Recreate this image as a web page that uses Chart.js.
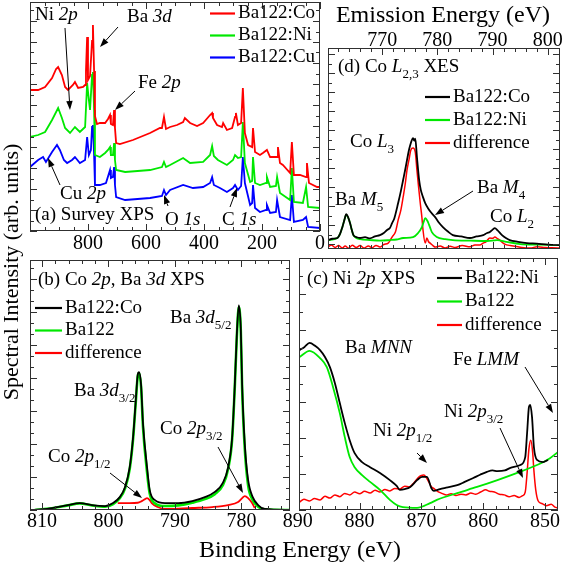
<!DOCTYPE html>
<html><head><meta charset="utf-8">
<script src="https://cdn.jsdelivr.net/npm/chart.js"></script>
<style>
html,body{margin:0;padding:0;background:#fff;}
#wrap{position:relative;width:562px;height:564px;overflow:hidden;background:#fff;font-family:"Liberation Serif","Times New Roman",serif;}
canvas{position:absolute;left:0;top:0;}
.ttl{position:absolute;white-space:nowrap;color:#000;font-size:24px;line-height:28px;text-align:center;}
</style></head>
<body><div id="wrap">
<canvas id="cA" width="562" height="564"></canvas>
<canvas id="cD" width="562" height="564"></canvas>
<canvas id="cB" width="562" height="564"></canvas>
<canvas id="cC" width="562" height="564"></canvas>
<div class="ttl" style="left:-189px;top:258px;width:400px;font-size:22px;transform:rotate(-90deg);">Spectral Intensity (arb. units)</div>
<div class="ttl" style="left:150px;top:535px;width:300px;">Binding Energy (eV)</div>
<div class="ttl" style="left:293px;top:0px;width:300px;">Emission Energy (eV)</div>
</div>
<script>
// ---------- (a) Survey XPS ----------
const surveyTicks = [800, 600, 400, 200, 0];
const surveyLabels = ['Ba122:Co', 'Ba122:Ni', 'Ba122:Cu'];
const surveyCoE = [1000,972,948,924,910,903,890,879,869,852,845,834,817,810,807,803,800,793,786,783,779,776,769,759,741,731,724,721,714,710,707,703,690,645,586,552,545,538,531,517,493,472,466,448,424,403,379,372,369,355,338,334,321,303,293,290,283,272,266,259,248,234,231,224,207,197,183,172,148,145,138,128,103,97,90,69,48,45,38,10,0];
const surveyCoI = [14.1,14.1,14.4,15.3,16.2,16.4,15.6,14.4,14.1,14.6,14.9,14.3,14.4,14.6,16.0,19.4,15.1,15.5,19.0,20.6,16.0,11.5,10.7,10.8,10.8,11.2,11.6,10.7,10.6,12.1,10.3,8.8,8.7,9.1,9.8,10.3,10.3,11.4,10.2,10.4,10.6,10.9,11.3,10.8,10.5,10.8,11.6,11.8,11.3,10.6,10.4,10.8,10.1,10.3,11.4,11.8,10.6,10.8,14.3,9.8,8.6,8.4,10.3,7.9,7.6,7.8,8.1,7.4,7.4,8.4,6.8,6.6,5.8,8.9,5.6,5.6,5.4,6.8,4.8,4.4,4.4];
const surveyNiE = [1000,972,948,924,903,890,879,862,845,828,810,803,797,793,786,783,779,776,759,741,731,724,721,714,710,707,703,672,586,545,538,531,517,472,448,403,379,372,366,352,321,300,293,283,272,266,259,241,234,231,224,207,186,183,172,152,148,138,103,97,90,59,48,41,0];
const surveyNiI = [9.4,9.6,9.9,11.1,12.3,11.3,10.3,9.8,10.4,9.9,10.4,14.8,13.1,12.1,15.6,15.9,12.1,7.6,7.4,7.8,8.1,8.4,7.6,7.6,8.8,7.1,6.1,5.9,6.1,6.4,6.9,6.4,6.6,7.3,6.8,6.9,7.6,8.5,7.5,7.1,6.6,7.1,7.6,7.3,7.4,10.9,6.8,4.9,5.0,7.4,4.8,4.6,4.8,5.4,4.4,4.5,5.4,3.8,3.1,6.3,2.9,2.8,4.4,2.4,2.3];
const surveyCuE = [1000,972,955,945,924,907,897,883,872,855,845,828,810,803,797,790,786,783,779,776,759,738,724,721,714,710,707,703,672,586,545,538,531,517,472,438,403,379,372,366,345,321,300,293,283,272,266,259,241,234,231,224,207,186,183,172,152,148,138,103,97,90,59,48,41,0];
const surveyCuI = [6.4,7.1,7.4,6.9,7.9,8.6,8.1,7.1,6.8,7.1,7.4,6.8,7.1,9.4,7.6,8.1,10.4,10.6,7.6,4.6,4.6,4.8,6.1,5.3,5.4,6.4,4.6,3.4,3.1,3.3,3.5,4.1,3.6,4.1,4.6,4.3,4.4,4.8,5.4,4.6,4.3,3.9,4.3,4.6,4.1,4.5,7.4,4.8,2.6,2.8,4.6,2.3,1.9,2.1,2.6,1.8,1.9,3.1,1.4,1.1,3.6,0.9,1.1,1.4,0.4,0.3];

// ---------- (d) Co L2,3 XES ----------
const xesTicks = [770, 780, 790, 800];
const xesLabels = ['Ba122:Co', 'Ba122:Ni', 'difference'];
const xesCoE = [760.2,761.0,761.9,762.4,762.8,763.2,763.5,763.8,764.2,764.5,764.8,765.4,766.0,766.9,767.8,768.7,769.6,770.3,770.9,771.4,771.8,772.2,772.9,773.4,773.8,774.2,774.5,774.9,775.2,775.6,775.8,776.0,776.3,776.7,777.0,777.4,777.8,778.3,778.9,779.6,780.3,781.0,781.9,782.8,784.3,785.9,787.1,788.3,789.0,789.5,790.0,790.4,790.9,791.7,792.4,793.1,794.6,796.2,798.0,800.0,802.2];
const xesCoI = [0.21,0.28,0.32,0.55,0.89,1.3,1.58,1.45,1.1,0.75,0.47,0.36,0.32,0.36,0.30,0.40,0.47,0.58,0.74,0.84,1.1,1.35,2.16,2.8,3.37,3.95,4.42,5.0,5.32,5.58,5.45,5.55,4.58,3.37,2.85,2.47,2.15,1.89,1.65,1.42,1.12,0.89,0.66,0.47,0.40,0.32,0.40,0.47,0.58,0.63,0.76,0.84,0.72,0.47,0.32,0.21,0.12,0.05,0.02,-0.03,-0.05];
const xesNiE = [760.2,761.9,762.4,762.8,763.2,763.5,763.8,764.2,764.5,764.8,766.0,767.8,769.6,771.4,772.6,773.8,775.6,776.5,777.2,777.5,777.8,778.3,778.7,779.0,779.9,781.4,782.8,786.0,789.0,790.8,792.5,795.0,798.0,802.2];
const xesNiI = [0.21,0.32,0.55,0.89,1.3,1.55,1.42,1.1,0.75,0.47,0.26,0.21,0.18,0.21,0.24,0.32,0.37,0.58,0.89,1.15,1.37,1.16,0.85,0.63,0.37,0.26,0.21,0.18,0.16,0.21,0.12,0.0,-0.03,-0.05];
const xesDiffE = [760.2,760.8,761.5,762.1,762.8,763.3,763.9,764.6,765.3,766.0,766.7,767.5,768.2,768.9,769.6,770.3,771.1,771.5,771.8,772.4,772.9,773.4,773.8,774.2,774.5,774.9,775.2,775.6,776.0,776.3,776.6,776.9,777.2,777.4,777.8,778.1,778.4,778.7,779.2,779.6,780.5,781.4,782.3,783.2,784.5,785.9,786.8,787.7,788.3,788.8,789.5,790.0,790.4,790.9,791.3,791.8,792.2,793.2,794.1,795.3,796.8,798.1,799.5,800.8,802.2];
const xesDiffI = [-0.16,-0.05,-0.18,-0.08,-0.21,-0.10,-0.22,-0.06,-0.18,-0.08,-0.21,-0.10,-0.19,-0.07,-0.16,-0.02,0.05,0.22,0.37,0.63,1.26,1.8,2.47,3.2,3.89,4.5,4.95,5.05,4.84,3.89,3.0,2.16,1.4,0.74,0.05,0.32,0.12,0.05,-0.08,-0.16,-0.10,-0.21,-0.12,-0.18,-0.08,-0.14,-0.05,-0.05,0.05,0.12,0.32,0.30,0.37,0.28,0.21,0.08,0.0,-0.08,-0.12,-0.18,-0.21,-0.14,-0.18,-0.20,-0.21];

// ---------- (b) Co 2p, Ba 3d XPS ----------
const coTicks = [810, 800, 790, 780];
const coLabels = ['Ba122:Co', 'Ba122', 'difference'];
const coE = [811.1,808.5,806.1,804.3,802.5,800.5,799.3,798.3,797.5,796.8,796.3,795.9,795.6,795.4,795.1,794.8,794.2,793.8,793.0,791.5,789.5,787.4,785.5,784.0,782.8,782.0,781.4,781.0,780.7,780.4,780.1,779.9,779.5,779.0,778.3,777.5,776.5,772.7];
const coI = [0.0,0.06,0.15,0.21,0.15,0.12,0.21,0.39,0.70,1.3,2.2,3.3,4.1,4.18,3.8,2.6,1.3,0.61,0.30,0.21,0.21,0.27,0.39,0.55,0.82,1.3,2.2,3.8,5.3,6.2,5.5,3.8,2.0,0.91,0.39,0.15,0.03,0.0];
const co122E = [811.1,808.5,806.1,804.3,802.5,800.5,799.3,798.3,797.5,796.8,796.3,795.9,795.6,795.4,795.1,794.8,794.2,793.8,793.0,791.5,789.5,787.4,785.5,784.0,782.8,782.0,781.4,781.0,780.7,780.4,780.1,779.9,779.5,779.0,778.3,777.5,776.5,772.7];
const co122I = [0.0,0.05,0.14,0.2,0.14,0.1,0.18,0.36,0.66,1.25,2.15,3.25,4.05,4.15,3.75,2.5,1.15,0.5,0.2,0.12,0.14,0.22,0.33,0.48,0.75,1.25,2.15,3.75,5.25,6.15,5.45,3.7,1.85,0.75,0.3,0.1,0.02,0.0];
const coDiffE = [798.6,796.8,795.6,795.0,794.5,794.2,793.8,793.5,792.6,791.5,789.5,787.4,784.4,782.0,780.5,779.9,779.5,779.0,778.4,778.0];
const coDiffI = [0.21,0.21,0.22,0.27,0.33,0.36,0.30,0.21,0.09,0.03,0.04,0.06,0.09,0.15,0.24,0.36,0.42,0.36,0.21,0.06];

// ---------- (c) Ni 2p XPS ----------
const niTicks = [890, 880, 870, 860, 850];
const niLabels = ['Ba122:Ni', 'Ba122', 'difference'];
const niE = [889.7,888.9,888.1,887.2,886.4,885.6,884.8,884.0,883.2,882.4,881.6,880.8,879.6,878.3,876.7,875.1,874.0,873.5,872.7,871.8,870.7,869.9,869.1,868.4,868.0,867.0,866.0,864.2,863.0,861.6,860.5,859.4,858.5,857.7,856.5,855.6,854.0,853.2,852.9,852.6,852.4,852.1,851.8,851.3,850.3,849.5];
const niI = [4.44,4.53,4.64,4.56,4.44,4.25,3.97,3.53,2.97,2.42,1.94,1.58,1.33,1.19,1.03,0.83,0.67,0.56,0.58,0.64,0.83,0.92,0.92,0.61,0.53,0.58,0.62,0.69,0.78,0.89,0.98,1.06,1.1,1.08,1.1,1.17,1.25,1.47,2.14,2.86,2.92,2.58,1.75,1.39,1.33,1.39];
const ni122E = [889.7,888.1,886.4,885.3,884.3,883.2,882.4,881.6,880.8,879.6,878.3,876.7,875.1,874.0,873.0,870.7,868.6,867.5,864.2,861.0,857.7,854.5,851.3,849.2,847.9];
const ni122I = [4.25,4.42,4.22,3.97,3.42,2.69,2.03,1.47,1.19,0.97,0.78,0.56,0.28,0.14,0.08,0.06,0.19,0.28,0.47,0.64,0.83,1.03,1.25,1.44,1.61];
const niDiffE = [889.7,889.0,888.1,887.3,886.4,885.6,884.8,884.0,883.2,882.4,881.6,880.8,880.0,879.2,878.3,877.5,876.7,875.9,875.1,874.3,873.5,872.7,872.0,871.4,870.9,870.5,870.1,869.6,869.2,868.8,868.4,868.0,867.4,866.8,866.0,865.2,864.4,863.6,862.8,862.0,861.2,860.4,859.6,859.0,858.2,857.4,856.6,855.8,855.0,854.2,853.6,853.2,852.9,852.6,852.3,852.0,851.8,851.5,851.1,850.5,849.8,849.0,848.4,847.9];
const niDiffI = [0.22,0.3,0.25,0.32,0.28,0.38,0.33,0.42,0.37,0.46,0.42,0.5,0.45,0.52,0.47,0.55,0.5,0.57,0.53,0.6,0.58,0.66,0.64,0.72,0.82,0.9,0.95,0.97,0.9,0.78,0.65,0.6,0.52,0.47,0.42,0.45,0.4,0.44,0.42,0.47,0.44,0.5,0.56,0.52,0.5,0.44,0.42,0.37,0.4,0.35,0.4,0.5,1.03,1.7,1.94,1.6,1.1,0.56,0.25,0.18,0.12,0.16,0.08,0.06];

// ---------- styling / helpers ----------
const serif = '"Liberation Serif","Times New Roman",serif';
const RED = '#ff0000', GREEN = '#00e800', BLUE = '#0000ff', BLACK = '#000000';

function pts(xs, ys) { return xs.map((x, i) => ({ x: x, y: ys[i] })); }

function richText(ctx, x, y, parts, size) {
  let cx = x;
  ctx.textBaseline = 'middle';
  ctx.textAlign = 'left';
  ctx.fillStyle = '#000';
  for (const [t, s] of parts) {
    const sub = s === 's';
    const fs = sub ? Math.round(size * 0.68) : size;
    ctx.font = (s === 'i' ? 'italic ' : '') + fs + 'px ' + serif;
    ctx.fillText(t, cx, sub ? y + size * 0.42 : y);
    cx += ctx.measureText(t).width;
  }
}
function arrow(ctx, x1, y1, x2, y2) {
  const ang = Math.atan2(y2 - y1, x2 - x1), L = 9, W = 3.2;
  const bx = x2 - L * Math.cos(ang), by = y2 - L * Math.sin(ang);
  ctx.strokeStyle = '#000'; ctx.fillStyle = '#000'; ctx.lineWidth = 1;
  ctx.beginPath(); ctx.moveTo(x1, y1); ctx.lineTo(bx, by); ctx.stroke();
  ctx.beginPath(); ctx.moveTo(x2, y2);
  ctx.lineTo(bx + W * Math.sin(ang), by - W * Math.cos(ang));
  ctx.lineTo(bx - W * Math.sin(ang), by + W * Math.cos(ang));
  ctx.closePath(); ctx.fill();
}

function framePlugin(f) {
  return {
    id: 'frameTicks',
    afterDatasetsDraw(chart) {
      const { ctx, chartArea: a } = chart;
      ctx.save();
      ctx.strokeStyle = '#303030'; ctx.lineWidth = 1;
      ctx.strokeRect(a.left + 0.5, a.top + 0.5, a.right - a.left - 1, a.bottom - a.top - 1);
      const draw = (sc, minor, every, horiz) => {
        const lo = Math.min(sc.min, sc.max), hi = Math.max(sc.min, sc.max);
        for (let k = Math.ceil(lo / minor - 1e-6); k * minor <= hi + 1e-6; k++) {
          const major = ((k % every) + every) % every === 0;
          const len = major ? 7 : 4;
          const p = Math.round(sc.getPixelForValue(k * minor)) + 0.5;
          ctx.beginPath();
          if (horiz) {
            ctx.moveTo(p, a.bottom); ctx.lineTo(p, a.bottom - len);
            ctx.moveTo(p, a.top); ctx.lineTo(p, a.top + len);
          } else {
            ctx.moveTo(a.left, p); ctx.lineTo(a.left + len, p);
            ctx.moveTo(a.right, p); ctx.lineTo(a.right - len, p);
          }
          ctx.stroke();
        }
      };
      draw(chart.scales.x, f.xMinor, f.xEvery, true);
      draw(chart.scales.y, f.yMinor, f.yEvery, false);
      ctx.restore();
    }
  };
}

function decorPlugin(d) {
  return {
    id: 'decor',
    afterDraw(chart) {
      const ctx = chart.ctx;
      ctx.save();
      const lg = d.legend;
      chart.data.datasets.forEach((ds, i) => {
        const y = lg.y + i * lg.dy;
        ctx.strokeStyle = ds.borderColor; ctx.lineWidth = 2.2;
        ctx.beginPath(); ctx.moveTo(lg.x, y); ctx.lineTo(lg.x + lg.len, y); ctx.stroke();
        richText(ctx, lg.x + lg.len + lg.gap, y, [[ds.label, 'n']], 19);
      });
      d.notes.forEach(n => richText(ctx, n.x, n.y, n.parts, 19));
      d.arrows.forEach(a => arrow(ctx, a[0], a[1], a[2], a[3]));
      ctx.restore();
    }
  };
}

const AXIS_BAND = 30;
function xAxis(min, max, labels, pos, pad, reverse) {
  return {
    type: 'linear', position: pos, min: min, max: max, reverse: reverse,
    grid: { display: false, drawTicks: false }, border: { display: false },
    ticks: { color: '#000', font: { family: serif, size: 20, lineHeight: 1 }, padding: pad,
      maxRotation: 0, minRotation: 0, autoSkip: false, callback: v => String(v) },
    afterBuildTicks: s => { s.ticks = labels.map(v => ({ value: v })); },
    afterFit: s => { s.height = AXIS_BAND; s.paddingLeft = 0; s.paddingRight = 0; s.paddingTop = 0; s.paddingBottom = 0; }
  };
}
function yAxis(min, max) {
  return {
    type: 'linear', min: min, max: max, display: false,
    grid: { display: false, drawTicks: false }, border: { display: false },
    ticks: { display: false },
    afterFit: s => { s.width = 0; s.paddingLeft = 0; s.paddingRight = 0; s.paddingTop = 0; s.paddingBottom = 0; }
  };
}

function makeChart(id, o) {
  return new Chart(document.getElementById(id), {
    type: 'line',
    data: {
      datasets: o.sets.map(s => ({
        label: s.label, data: pts(s.e, s.i), borderColor: s.color, borderWidth: s.w || 1.8,
        pointRadius: 0, fill: false, tension: 0,
        cubicInterpolationMode: o.smooth ? 'monotone' : 'default'
      }))
    },
    options: {
      responsive: false, animation: false, events: [], devicePixelRatio: 1,
      layout: { padding: o.pad },
      plugins: { legend: { display: false }, tooltip: { enabled: false } },
      scales: { x: o.x, y: o.y }
    },
    plugins: [framePlugin(o.frame), decorPlugin(o.decor)]
  });
}

// (a) plot frame 30..320 x 2..231
makeChart('cA', {
  pad: { left: 30, top: 2, right: 242, bottom: 564 - 231 - AXIS_BAND },
  x: xAxis(0, 1000, surveyTicks, 'bottom', 3, true),
  y: yAxis(0, 22.9),
  frame: { xMinor: 50, xEvery: 4, yMinor: 1.05, yEvery: 2 },
  sets: [
    { label: surveyLabels[0], e: surveyCoE, i: surveyCoI, color: RED },
    { label: surveyLabels[1], e: surveyNiE, i: surveyNiI, color: GREEN },
    { label: surveyLabels[2], e: surveyCuE, i: surveyCuI, color: BLUE }
  ],
  decor: {
    legend: { x: 210, y: 13.5, dy: 22, len: 25, gap: 3 },
    notes: [
      { x: 35, y: 15, parts: [['Ni ', 'n'], ['2p', 'i']] },
      { x: 127, y: 17, parts: [['Ba ', 'n'], ['3d', 'i']] },
      { x: 138, y: 83, parts: [['Fe ', 'n'], ['2p', 'i']] },
      { x: 60, y: 194, parts: [['Cu ', 'n'], ['2p', 'i']] },
      { x: 35, y: 215, parts: [['(a) Survey XPS', 'n']] },
      { x: 165, y: 220, parts: [['O ', 'n'], ['1s', 'i']] },
      { x: 222, y: 220, parts: [['C ', 'n'], ['1s', 'i']] }
    ],
    arrows: [[65, 28, 70, 110], [118, 27, 100, 47], [135, 91, 115, 110], [60, 185, 48, 158], [168, 206, 164, 195], [230, 207, 237, 188]]
  }
});

// (d) plot frame 328..560 x 48..249
makeChart('cD', {
  pad: { left: 328, top: 48 - AXIS_BAND, right: 2, bottom: 315 },
  x: xAxis(760.2, 802.2, xesTicks, 'top', -3, false),
  y: yAxis(-0.26, 10.32),
  smooth: true,
  frame: { xMinor: 2, xEvery: 5, yMinor: 0.5, yEvery: 2 },
  sets: [
    { label: xesLabels[0], e: xesCoE, i: xesCoI, color: BLACK },
    { label: xesLabels[1], e: xesNiE, i: xesNiI, color: GREEN },
    { label: xesLabels[2], e: xesDiffE, i: xesDiffI, color: RED, w: 1.5 }
  ],
  decor: {
    legend: { x: 425, y: 97, dy: 23, len: 25, gap: 3 },
    notes: [
      { x: 338, y: 67, parts: [['(d) Co ', 'n'], ['L', 'i'], ['2,3', 's'], [' XES', 'n']] },
      { x: 350, y: 142, parts: [['Co ', 'n'], ['L', 'i'], ['3', 's']] },
      { x: 335, y: 200, parts: [['Ba ', 'n'], ['M', 'i'], ['5', 's']] },
      { x: 477, y: 188, parts: [['Ba ', 'n'], ['M', 'i'], ['4', 's']] },
      { x: 490, y: 217, parts: [['Co ', 'n'], ['L', 'i'], ['2', 's']] }
    ],
    arrows: [[473, 191, 435, 215]]
  }
});

// (b) plot frame 30..290 x 260..510
makeChart('cB', {
  pad: { left: 30, top: 260, right: 272, bottom: 564 - 510 - AXIS_BAND },
  x: xAxis(772.7, 811.8, coTicks, 'bottom', 2, true),
  y: yAxis(0, 7.58),
  smooth: true,
  frame: { xMinor: 2, xEvery: 5, yMinor: 1 / 3, yEvery: 3 },
  sets: [
    { label: coLabels[0], e: coE, i: coI, color: BLACK },
    { label: coLabels[1], e: co122E, i: co122I, color: GREEN, w: 2.6 },
    { label: coLabels[2], e: coDiffE, i: coDiffI, color: RED }
  ],
  decor: {
    legend: { x: 35, y: 308, dy: 22.5, len: 27, gap: 3 },
    notes: [
      { x: 38, y: 280, parts: [['(b) Co ', 'n'], ['2p', 'i'], [', Ba ', 'n'], ['3d', 'i'], [' XPS', 'n']] },
      { x: 170, y: 318, parts: [['Ba ', 'n'], ['3d', 'i'], ['5/2', 's']] },
      { x: 74, y: 391, parts: [['Ba ', 'n'], ['3d', 'i'], ['3/2', 's']] },
      { x: 160, y: 429, parts: [['Co ', 'n'], ['2p', 'i'], ['3/2', 's']] },
      { x: 48, y: 457, parts: [['Co ', 'n'], ['2p', 'i'], ['1/2', 's']] }
    ],
    arrows: [[218, 447, 243, 493], [110, 473, 142, 498]]
  }
});

// (c) plot frame 299..558 x 258..510
makeChart('cC', {
  pad: { left: 299, top: 258, right: 4, bottom: 564 - 510 - AXIS_BAND },
  x: xAxis(847.9, 889.8, niTicks, 'bottom', 2, true),
  y: yAxis(0, 7.0),
  smooth: true,
  frame: { xMinor: 2, xEvery: 5, yMinor: 0.5, yEvery: 2 },
  sets: [
    { label: niLabels[0], e: niE, i: niI, color: BLACK },
    { label: niLabels[1], e: ni122E, i: ni122I, color: GREEN },
    { label: niLabels[2], e: niDiffE, i: niDiffI, color: RED, w: 1.5 }
  ],
  decor: {
    legend: { x: 437, y: 278, dy: 23.5, len: 25, gap: 3 },
    notes: [
      { x: 307, y: 279, parts: [['(c) Ni ', 'n'], ['2p', 'i'], [' XPS', 'n']] },
      { x: 345, y: 348, parts: [['Ba ', 'n'], ['MNN', 'i']] },
      { x: 453, y: 360, parts: [['Fe ', 'n'], ['LMM', 'i']] },
      { x: 444, y: 412, parts: [['Ni ', 'n'], ['2p', 'i'], ['3/2', 's']] },
      { x: 373, y: 431, parts: [['Ni ', 'n'], ['2p', 'i'], ['1/2', 's']] }
    ],
    arrows: [[525, 367, 553, 413], [500, 428, 523, 478], [417, 453, 427, 463]]
  }
});
</script>
</body></html>
